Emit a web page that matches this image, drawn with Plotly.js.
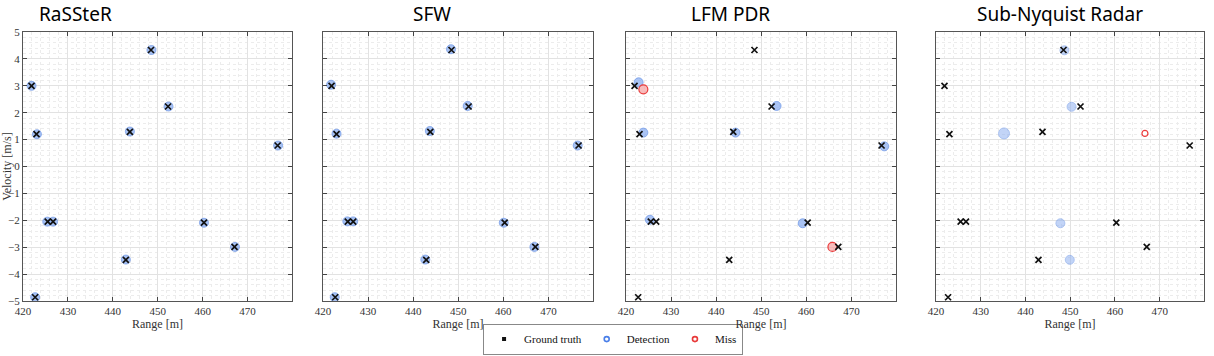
<!DOCTYPE html>
<html>
<head>
<meta charset="utf-8">
<script src="https://cdn.plot.ly/plotly-3.0.1.min.js"></script>
<style>
  body { margin: 0; background: #fff; }
  #chart { width: 1214px; height: 356px; }
</style>
</head>
<body>
<div id="chart"></div>
<script>
"use strict";

// panel titles
var panelTitles = ["RaSSteR", "SFW", "LFM PDR", "Sub-Nyquist Radar"];

// ground truth targets (same scene in every panel)
var gtRange = [421.9, 422.7, 423.0, 425.5, 426.7, 442.9, 443.8, 448.5, 452.3, 460.3, 467.1, 476.7];
var gtVel   = [3.0, -4.86, 1.2, -2.05, -2.05, -3.47, 1.29, 4.33, 2.23, -2.09, -2.99, 0.78];

// RaSSteR detections
var rasRange = [421.9, 422.7, 423.1, 425.4, 426.7, 442.9, 443.8, 448.6, 452.4, 460.3, 467.2, 476.8];
var rasVel   = [3.0, -4.86, 1.2, -2.05, -2.05, -3.46, 1.3, 4.33, 2.23, -2.09, -2.99, 0.78];

// SFW detections
var sfwRange = [421.8, 422.6, 423.0, 425.4, 426.7, 442.7, 443.7, 448.4, 452.1, 460.1, 466.9, 476.5];
var sfwVel   = [3.04, -4.86, 1.22, -2.04, -2.04, -3.46, 1.32, 4.36, 2.25, -2.09, -2.99, 0.78];

// LFM PDR detections and misses
var lfmRange = [422.8, 423.85, 444.3, 453.4, 477.3, 425.3, 459.2];
var lfmVel   = [3.13, 1.26, 1.26, 2.25, 0.75, -1.98, -2.11];
var lfmMissRange = [423.85, 465.8];
var lfmMissVel   = [2.87, -2.99];

// Sub-Nyquist detections and misses
var subRange = [448.7, 450.3, 435.2, 447.8, 449.9];
var subVel   = [4.32, 2.22, 1.23, -2.11, -3.47];
var subMissRange = [466.7];
var subMissVel   = [1.23];

var W = 1214, H = 356;
// plot areas in pixels [left, right]
var panelX = [[23, 292], [323, 593], [626, 896], [936, 1204]];
var panelTop = 32, panelBottom = 301;
var titleX = [75, 432, 730, 1060];

var detMarker = {symbol: "circle", size: 9, color: "rgba(140,175,240,0.75)",
    line: {color: "rgba(110,150,230,0.9)", width: 0.8}};
var missMarker = {symbol: "circle", size: 9, color: "rgba(245,160,160,0.7)",
    line: {color: "rgba(235,60,60,1)", width: 1.2}};
var gtMarker = {symbol: "x-thin", size: 6, color: "#111",
    line: {color: "#111", width: 1.7}};

function axisName(i, kind){
    return i === 0 ? kind : kind + (i + 1);
}

var traces = [];
function addPanel(i, det, miss, missSize){
    var xa = axisName(i, "x"), ya = axisName(i, "y");
    traces.push({x: det[0], y: det[1], xaxis: xa, yaxis: ya, type: "scatter",
        mode: "markers", marker: det[2] || detMarker, showlegend: false, hoverinfo: "skip"});
    if(miss){
        var m = JSON.parse(JSON.stringify(missMarker));
        if(missSize) { m.size = missSize; m.color = "rgba(255,255,255,0)"; }
        traces.push({x: miss[0], y: miss[1], xaxis: xa, yaxis: ya, type: "scatter",
            mode: "markers", marker: m, showlegend: false, hoverinfo: "skip"});
    }
    traces.push({x: gtRange, y: gtVel, xaxis: xa, yaxis: ya, type: "scatter",
        mode: "markers", marker: gtMarker, showlegend: false, hoverinfo: "skip"});
}

addPanel(0, [rasRange, rasVel]);
addPanel(1, [sfwRange, sfwVel]);
addPanel(2, [lfmRange, lfmVel], [lfmMissRange, lfmMissVel]);
var subMarker = JSON.parse(JSON.stringify(detMarker));
subMarker.size = [9, 9, 11, 9, 9];
addPanel(3, [subRange, subVel, subMarker], [subMissRange, subMissVel], 6);

// legend entries
traces.push({x: [null], y: [null], type: "scatter", mode: "markers", name: "Ground truth",
    marker: {symbol: "square", size: 4, color: "#111"}});
traces.push({x: [null], y: [null], type: "scatter", mode: "markers", name: "Detection",
    marker: {symbol: "circle-open", size: 5, color: "#4a7fe8", line: {width: 1.6}}});
traces.push({x: [null], y: [null], type: "scatter", mode: "markers", name: "Miss",
    marker: {symbol: "circle-open", size: 5, color: "#e83a3a", line: {width: 1.6}}});

var tickFont = {family: "Liberation Serif, serif", size: 11, color: "#333"};
var titleFont = {family: "Liberation Serif, serif", size: 12, color: "#333"};

var layout = {
    width: W, height: H,
    margin: {l: 0, r: 0, t: 0, b: 0},
    paper_bgcolor: "#fff", plot_bgcolor: "#fff",
    showlegend: true,
    legend: {orientation: "h", x: 0.505, xanchor: "center", y: 0.004, yanchor: "bottom",
        bordercolor: "#888", borderwidth: 1, font: {family: "Liberation Serif, serif", size: 11, color: "#111"},
        itemsizing: "trace", itemwidth: 30, tracegroupgap: 0},
    annotations: [],
    font: tickFont
};

for(var i = 0; i < 4; i++){
    var xk = i === 0 ? "xaxis" : "xaxis" + (i + 1);
    var yk = i === 0 ? "yaxis" : "yaxis" + (i + 1);
    layout[xk] = {
        domain: [panelX[i][0] / W, panelX[i][1] / W],
        anchor: axisName(i, "y"),
        range: [420, 479.9], tick0: 420, dtick: 10,
        ticks: "inside", ticklen: 4, tickcolor: "#444",
        showline: true, linecolor: "#555", linewidth: 1, mirror: "ticks",
        showgrid: true, gridcolor: "#e2e2e2", gridwidth: 1,
        minor: {dtick: 2, showgrid: true, gridcolor: "#ececec", griddash: "dot", ticks: ""},
        zeroline: false, tickfont: tickFont,
        title: {text: "Range [m]", font: titleFont, standoff: 1},
        fixedrange: true
    };
    layout[yk] = {
        domain: [1 - panelBottom / H, 1 - panelTop / H],
        anchor: axisName(i, "x"),
        range: [-5, 5], tick0: -5, dtick: 1,
        ticks: "inside", ticklen: 4, tickcolor: "#444",
        showline: true, linecolor: "#555", linewidth: 1, mirror: "ticks",
        showgrid: true, gridcolor: "#e2e2e2", gridwidth: 1,
        minor: {dtick: 0.2, showgrid: true, gridcolor: "#ececec", griddash: "dot", ticks: ""},
        zeroline: false, tickfont: tickFont,
        showticklabels: i === 0,
        title: i === 0 ? {text: "Velocity [m/s]", font: titleFont, standoff: 2} : {text: ""},
        fixedrange: true
    };
    layout.annotations.push({
        text: panelTitles[i], xref: "paper", yref: "paper",
        x: titleX[i] / W, y: 1 - 14 / H, xanchor: "center", yanchor: "middle",
        showarrow: false, font: {family: "Noto Sans, sans-serif", size: 19, color: "#000"}
    });
}

Plotly.newPlot("chart", traces, layout, {displayModeBar: false, staticPlot: true});
</script>
</body>
</html>
